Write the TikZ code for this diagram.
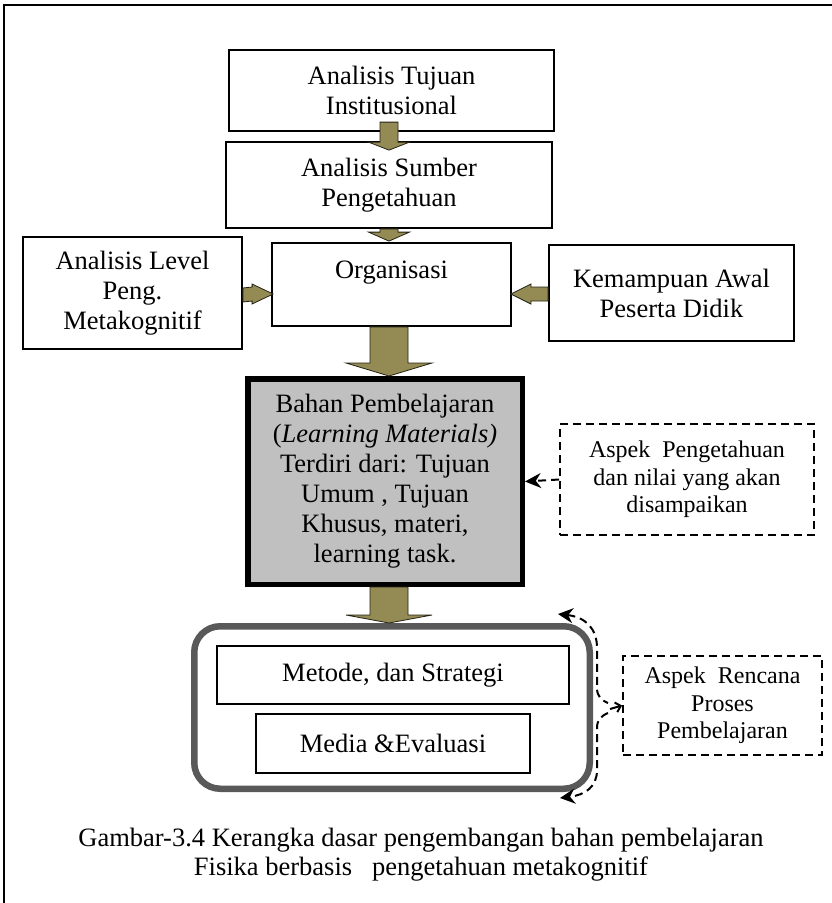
\documentclass[tikz,border=0pt]{standalone}
\usepackage{fontspec}
\setmainfont{Liberation Serif}
\usetikzlibrary{calc,arrows.meta}
\definecolor{oliveArr}{RGB}{148,138,84}
\definecolor{bahanGray}{RGB}{192,192,192}
\definecolor{roundGray}{RGB}{89,89,89}
\newcommand\oliveV[5]{\filldraw[olv] ($(#1)+(-#3,0)$) -- ($(#2)+(-#3,-#5)$) -- ($(#2)+(-#4,-#5)$) -- (#2) -- ($(#2)+(#4,-#5)$) -- ($(#2)+(#3,-#5)$) -- ($(#1)+(#3,0)$) -- cycle;}
\newcommand\oliveH[5]{\filldraw[olv] ($(#1)+(0,-#3)$) -- ($(#2)+({-(#5)},-#3)$) -- ($(#2)+({-(#5)},-#4)$) -- (#2) -- ($(#2)+({-(#5)},#4)$) -- ($(#2)+({-(#5)},#3)$) -- ($(#1)+(0,#3)$) -- cycle;}
\begin{document}
\begin{tikzpicture}[x=1pt,y=-1pt,
  every node/.style={font=\fontsize{26.5}{30}\selectfont, align=center, inner sep=0pt},
  box/.style={draw=black, line width=1.8pt, fill=white},
  dbox/.style={draw=black, line width=1.8pt, dash pattern=on 8pt off 5pt, font=\fontsize{24}{27.5}\selectfont},
  olv/.style={fill=oliveArr, draw=black!75!oliveArr, line width=0.8pt, line join=miter},
  dsh/.style={line width=2pt, dash pattern=on 8pt off 5pt}]
\useasboundingbox (0,0) rectangle (832,903);
\fill[white] (0,0) rectangle (832,903);
% outer frame
\draw[line width=2pt] (3.5,903) -- (3.5,5.3) -- (832,5.3);

% boxes
\node[box, minimum width=325pt, minimum height=81pt] (box1) at (391.5,90.5) {Analisis Tujuan\\Institusional};
\node[box, minimum width=326pt, minimum height=86pt] (box2) at (389,185) {Analisis Sumber\\Pengetahuan};
\node[box, minimum width=239pt, minimum height=83pt] (org) at (391.5,284.5) {Organisasi\\\mbox{}};
\node[box, minimum width=219pt, minimum height=112pt] (lft) at (132.5,293) {Analisis Level\\Peng.\\Metakognitif};
\node[box, minimum width=245pt, minimum height=96pt] (rgt) at (671.5,293) {Kemampuan Awal\\Peserta Didik};
\node[draw=black, line width=5.5pt, fill=bahanGray, minimum width=274.5pt, minimum height=205.5pt] (bahan) at (385,481.5)
  {Bahan Pembelajaran\\(\textit{Learning Materials)}\\Terdiri dari: Tujuan\\Umum , Tujuan\\Khusus, materi,\\learning task.};
\node[dbox, minimum width=254pt, minimum height=111pt] (asp1) at (687,479.5) {Aspek\ \ Pengetahuan\\dan nilai yang akan\\disampaikan};
\node[draw=roundGray, line width=6.5pt, rounded corners=26pt, minimum width=395.5pt, minimum height=162.5pt] (rnd) at (392,707.5) {};
\node[box, line width=1.5pt, minimum width=352pt, minimum height=58pt] (met) at (393,675) {Metode, dan Strategi};
\node[box, line width=1.5pt, minimum width=274pt, minimum height=59pt] (med) at (393,743.5) {Media \&Evaluasi};
\node[dbox, minimum width=199pt, minimum height=99pt] (asp2) at (722.5,705.5) {Aspek\ \ Rencana\\Proses\\Pembelajaran};
\node[font=\fontsize{26.5}{29}\selectfont] (cap) at (421,855) {Gambar-3.4 Kerangka dasar pengembangan bahan pembelajaran\\Fisika berbasis\ \ \ pengetahuan metakognitif};

% olive block arrows
\coordinate (p1s) at ($(box2.north)+(0,-19)$);
\coordinate (p1t) at ($(box2.north)+(0,9)$);
\oliveV{p1s}{p1t}{9}{20.5}{8}
\coordinate (p2s) at (box2.south);
\coordinate (p2t) at ($(box2.south |- org.north)+(0,-1)$);
\oliveV{p2s}{p2t}{9}{20.5}{9}
\coordinate (p3s) at (box2.south |- org.south);
\coordinate (p3t) at (box2.south |- bahan.north);
\oliveV{p3s}{p3t}{19}{43}{13}
\coordinate (p4s) at (box2.south |- bahan.south);
\coordinate (p4t) at (box2.south |- rnd.north);
\oliveV{p4s}{p4t}{19}{43}{8}
\coordinate (p5s) at ($(lft.east)+(0,2)$);
\coordinate (p5t) at ($(org.west |- p5s)+(2,-1)$);
\oliveH{p5s}{p5t}{7}{10}{21}
\coordinate (p6s) at ($(rgt.west)+(0,1)$);
\coordinate (p6t) at ($(org.east |- p6s)+(-1,0)$);
\oliveH{p6s}{p6t}{7}{10}{-20}

% dashed connectors
\draw[dsh, -{Stealth[length=16pt,width=15pt]}] (asp1.west) -- ($(bahan.east |- asp1.west)+(0,2)$);
\coordinate (bt) at (558,614);
\coordinate (bb) at (560,798);
\coordinate (bm1) at (608,703);
\coordinate (bm2) at (608,713);
\coordinate (bm) at (610,709);
\draw[dsh, {Stealth[length=15pt,width=15pt]}-] (bt) .. controls (585,617) and (597,628) .. (597,648) -- (597,688) .. controls (597,696) and (601,700) .. (bm1);
\draw[dsh, -{Stealth[length=15pt,width=15pt]}] (bm2) .. controls (601,716) and (597,720) .. (597,728) -- (597,770) .. controls (597,787) and (585,795) .. (bb);
\draw[line width=2pt, -{Straight Barb[length=5pt,width=10pt]}] (bm) -- (asp2.west);
\end{tikzpicture}
\end{document}
